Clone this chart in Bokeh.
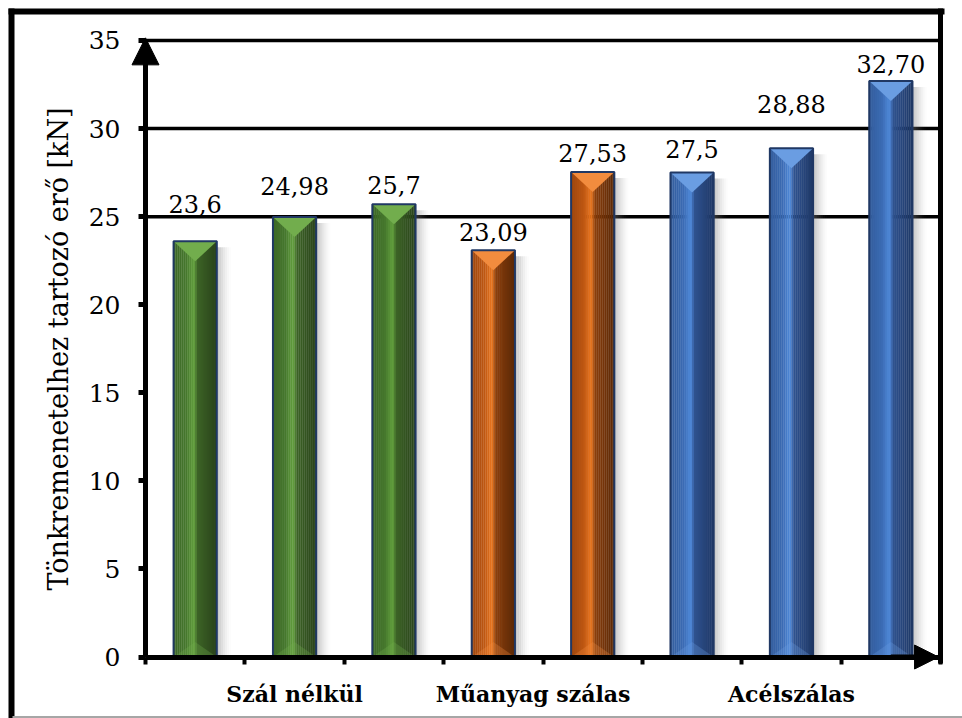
from bokeh.plotting import figure
from bokeh.models import (Range1d, FixedTicker, ColumnDataSource, LabelSet,
                          Arrow, NormalHead)
from bokeh.core.properties import value
from bokeh.embed import file_html
from bokeh.resources import INLINE

# ---- data -------------------------------------------------------------
groups = ["Szál nélkül", "Műanyag szálas", "Acélszálas"]
group_sizes = [3, 2, 3]
group_label_pos = [1.5, 3.9, 6.5]
forces = [23.6, 24.98, 25.7, 23.09, 27.53, 27.5, 28.88, 32.70]
force_labels = ["23,6", "24,98", "25,7", "23,09", "27,53", "27,5", "28,88", "32,70"]
y_ticks = [0, 5, 10, 15, 20, 25, 30, 35]
grid_levels = [25, 30, 35]

# ---- styling ----------------------------------------------------------
W_PX, H_PX = 962, 718
X_LO, X_HI = -1.459, 8.221
Y_LO, Y_HI = -3.49, 37.27
PX_X = W_PX / (X_HI - X_LO)      # pixels per x unit
PX_Y = H_PX / (Y_HI - Y_LO)      # pixels per y unit
FONT = "DejaVu Serif"
label_lift = [28, 22, 10, 9, 10, 15, 35, 8]   # gap above bar top, px

# gradient stops across the bar width (fraction, colour)
profiles = [
    [(0.0, "#3c6727"), (0.3, "#46782d"), (0.47, "#63a03e"), (0.56, "#3c6326"), (1.0, "#29421a")],
    [(0.0, "#9c460e"), (0.3, "#bf5712"), (0.47, "#e9761f"), (0.56, "#8a3e0c"), (1.0, "#5a2806")],
    [(0.0, "#335d9c"), (0.3, "#3b6bb4"), (0.47, "#508ad9"), (0.56, "#2f528f"), (1.0, "#1f3866")],
]
top_face = ["#72ad4d", "#f28c3e", "#6a9de2"]
edge_color = "#203864"


def hex2rgb(h):
    h = h.lstrip("#")
    return tuple(int(h[i:i + 2], 16) for i in (0, 2, 4))


def interp(stops, f):
    for (f0, c0), (f1, c1) in zip(stops[:-1], stops[1:]):
        if f0 <= f <= f1:
            t = 0 if f1 == f0 else (f - f0) / (f1 - f0)
            a, b = hex2rgb(c0), hex2rgb(c1)
            return "#%02x%02x%02x" % tuple(round(a[k] + (b[k] - a[k]) * t) for k in range(3))
    return stops[-1][1]


group_of_bar = []
for g, n in enumerate(group_sizes):
    group_of_bar += [g] * n
centers = [i + 0.5 for i in range(len(forces))]

p = figure(width=W_PX, height=H_PX, x_range=Range1d(X_LO, X_HI),
           y_range=Range1d(Y_LO, Y_HI), output_backend="svg",
           toolbar_location=None, title=None, min_border=0,
           outline_line_color=None, background_fill_color="white",
           border_fill_color="white")
p.extra_x_ranges = {"px": Range1d(0, W_PX)}
p.extra_y_ranges = {"px": Range1d(H_PX, 0)}
p.xgrid.visible = False
p.ygrid.visible = False

# chart frame
p.segment(x0=[11, 8, 940], y0=[8, 11, 8], x1=[11, 944, 940], y1=[730, 11, 663],
          line_color="black", line_width=[6, 6, 5],
          x_range_name="px", y_range_name="px")
p.segment(x0=[12], y0=[716.5], x1=[962], y1=[716.5], line_color="#a6a6a6",
          line_width=2, x_range_name="px", y_range_name="px")

# horizontal grid lines
p.segment(x0=[0] * len(grid_levels), x1=[8] * len(grid_levels),
          y0=grid_levels, y1=grid_levels, line_color="black", line_width=3.5)

BAR_W = 0.435
# soft drop shadow to the right of every bar
sh_x, sh_top, sh_alpha = [], [], []
n_sh = 7
sh_w = 2.0 / PX_X
for xc, v in zip(centers, forces):
    for k in range(n_sh):
        sh_x.append(xc + BAR_W / 2 + (k + 0.5) * sh_w)
        sh_top.append(v - 6 / PX_Y)
        sh_alpha.append(0.42 * (1 - k / n_sh) ** 1.5)
p.vbar(x=sh_x, width=sh_w * 1.05, top=sh_top, bottom=0, fill_color="#7f7f7f",
       fill_alpha=sh_alpha, line_color=None)

# bar bodies as shaded vertical strips
n_strip = 22
st_w = BAR_W / n_strip
st_x, st_top, st_col = [], [], []
for xc, v, g in zip(centers, forces, group_of_bar):
    for k in range(n_strip):
        f = (k + 0.5) / n_strip
        st_x.append(xc - BAR_W / 2 + (k + 0.5) * st_w)
        st_top.append(v)
        st_col.append(interp(profiles[g], f))
p.vbar(x=st_x, width=st_w * 1.15, top=st_top, bottom=0, fill_color=st_col,
       line_color=None)

# bevelled top and bottom faces
d_top = 20 / PX_Y
d_bot = 15 / PX_Y
tx, ty, tcol = [], [], []
bx, by, bcol = [], [], []
for xc, v, g in zip(centers, forces, group_of_bar):
    tx.append([xc - BAR_W / 2, xc + BAR_W / 2, xc])
    ty.append([v, v, v - d_top])
    tcol.append(top_face[g])
    bx.append([xc - BAR_W / 2, xc + BAR_W / 2, xc])
    by.append([0, 0, d_bot])
    bcol.append(top_face[g])
p.patches(xs=tx, ys=ty, fill_color=tcol, line_color=None)
p.patches(xs=bx, ys=by, fill_color=bcol, fill_alpha=0.3, line_color=None)

# bar outlines
p.vbar(x=centers, width=BAR_W, top=forces, bottom=0, fill_color=None,
       line_color=edge_color, line_width=2)

# value labels
src = ColumnDataSource(dict(x=centers, y=forces, t=force_labels, lift=label_lift))
p.add_layout(LabelSet(x="x", y="y", text="t", y_offset="lift", source=src,
                      text_align="center", text_baseline="alphabetic",
                      text_font=value(FONT), text_font_size="24px",
                      text_color="black"))

# y axis
yax = p.yaxis[0]
yax.fixed_location = 0
yax.bounds = (0, 35)
yax.ticker = FixedTicker(ticks=y_ticks)
yax.axis_line_width = 5
yax.axis_line_color = "black"
yax.major_tick_line_width = 5
yax.major_tick_out = 7
yax.major_tick_in = 0
yax.minor_tick_line_color = None
yax.major_label_text_font = FONT
yax.major_label_text_font_size = "25px"
yax.major_label_text_color = "black"
yax.major_label_standoff = 18
yax.axis_label = "Tönkremenetelhez tartozó erő [kN]"
yax.axis_label_text_font = FONT
yax.axis_label_text_font_size = "27px"
yax.axis_label_text_font_style = "normal"
yax.axis_label_text_color = "black"
yax.axis_label_standoff = 12

# x axis: tick marks between categories, group names as labels
xax = p.xaxis[0]
xax.fixed_location = 0
xax.bounds = (0, 8)
xax.ticker = FixedTicker(ticks=group_label_pos, minor_ticks=list(range(9)))
xax.major_label_overrides = {pos: name for pos, name in zip(group_label_pos, groups)}
xax.axis_line_width = 5
xax.axis_line_color = "black"
xax.major_tick_out = 0
xax.major_tick_in = 0
xax.major_tick_line_color = None
xax.minor_tick_out = 7
xax.minor_tick_in = 0
xax.minor_tick_line_width = 4
xax.minor_tick_line_color = "black"
xax.major_label_text_font = FONT
xax.major_label_text_font_size = "22px"
xax.major_label_text_font_style = "bold"
xax.major_label_text_color = "black"
xax.major_label_standoff = 17

# arrow heads at the axis ends
p.add_layout(Arrow(end=NormalHead(size=27, fill_color="black", line_color="black"),
                   x_start=0, y_start=33, x_end=0, y_end=35.15,
                   line_color="black", line_width=5))
p.add_layout(Arrow(end=NormalHead(size=24, fill_color="black", line_color="black"),
                   x_start=7.5, y_start=0, x_end=7.98, y_end=0,
                   line_color="black", line_width=5))

open("out.html", "w").write(file_html(p, INLINE))
